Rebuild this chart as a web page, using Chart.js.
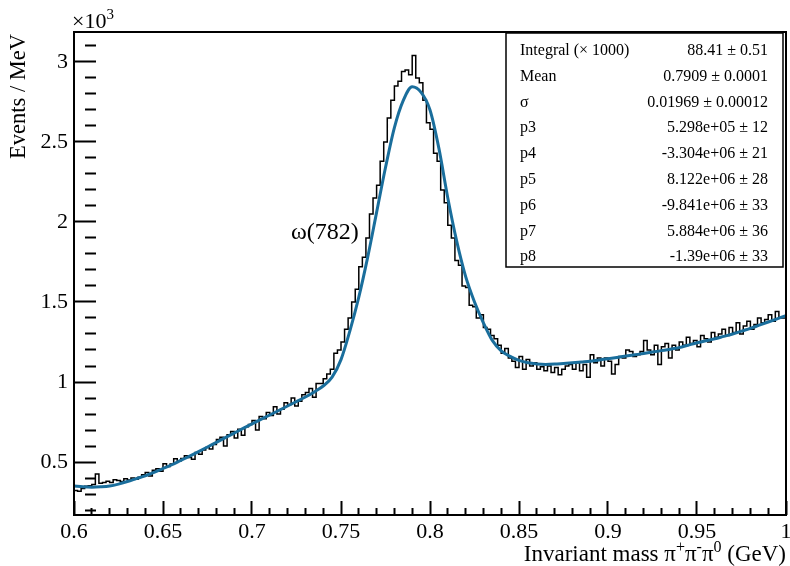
<!DOCTYPE html>
<html>
<head>
<meta charset="utf-8">
<script src="https://cdn.jsdelivr.net/npm/chart.js@4/dist/chart.umd.min.js"></script>
<style>
  body { margin: 0; background: #fff; }
  #wrap { width: 790px; height: 566px; }
</style>
</head>
<body>
<div id="wrap"><canvas id="massChart" width="790" height="566"></canvas></div>
<script>
// histogram: 200 bins of 2 MeV from 0.6 to 1.0 GeV, events / MeV
const massLow = 0.6;
const massHigh = 1.0;
const binWidth = 0.002;
const eventsPerMeV = [
  330, 322, 318, 335, 348, 352, 360, 425, 368, 372,
  380, 372, 390, 385, 378, 395, 388, 400, 392, 405,
  420, 435, 412, 448, 458, 442, 490, 472, 488, 520,
  505, 522, 540, 528, 518, 560, 548, 575, 590, 582,
  610, 640, 655, 600, 670, 690, 650, 705, 668, 720,
  735, 760, 700, 785, 770, 810, 790, 845, 800, 830,
  870, 860, 900, 850, 880, 920, 935, 960, 905, 990,
  990, 1020, 1050, 1080, 1180, 1200, 1250, 1330, 1400, 1500,
  1580, 1720, 1780, 1900, 2050, 2150, 2230, 2380, 2500, 2650,
  2760, 2850, 2880, 2940, 2950, 2920, 3040, 2900, 2870, 2760,
  2620, 2580, 2430, 2380, 2200, 2120, 1980, 1900, 1760, 1730,
  1600, 1590, 1480, 1470, 1400, 1420, 1340, 1330, 1290, 1270,
  1230, 1180, 1210, 1150, 1130, 1090, 1160, 1080, 1140, 1100,
  1120, 1080, 1095, 1070, 1100, 1060, 1090, 1045, 1080, 1100,
  1110, 1080, 1120, 1070, 1110, 1030, 1170, 1120, 1150, 1100,
  1150, 1130, 1050, 1110, 1160, 1150, 1200, 1190, 1160, 1170,
  1190, 1260, 1200, 1170, 1230, 1110, 1220, 1240, 1150, 1230,
  1200, 1250, 1230, 1280, 1240, 1260, 1220, 1290, 1270, 1250,
  1310, 1280, 1300, 1330, 1290, 1340, 1310, 1370, 1300, 1350,
  1380, 1330, 1360, 1400, 1370, 1390, 1420, 1380, 1440, 1400
];

// fitted curve sampled every 5 MeV from 0.6 to 1.0 GeV
const fitStep = 0.005;
const fitCurve = [
  350, 345, 343, 345, 350, 362, 378, 396, 414, 436,
  459, 483, 510, 537, 565, 594, 623, 652, 681, 710,
  738, 766, 794, 822, 850, 878, 906, 938, 975, 1030,
  1140, 1320, 1530, 1780, 2060, 2340, 2590, 2760, 2845, 2810,
  2700, 2460, 2150, 1880, 1660, 1500, 1370, 1260, 1195, 1160,
  1135, 1120, 1113, 1110, 1112, 1116, 1120, 1125, 1130, 1138,
  1145, 1153, 1162, 1170, 1178, 1187, 1196, 1205, 1215, 1230,
  1245, 1258, 1270, 1285, 1300, 1318, 1335, 1355, 1375, 1395,
  1415
];

// axis ticks: one tick every 0.01 GeV / 100 events, a label every fifth one
const xTickLabels = ['0.6', '0.65', '0.7', '0.75', '0.8', '0.85', '0.9', '0.95', '1'];
const yTickLabels = ['0.5', '1', '1.5', '2', '2.5', '3'];
const xMinorStep = 0.01;
const yMinorStep = 100;

const statsRows = [
  ['Integral (\u00d7 1000)', '88.41 \u00b1 0.51'],
  ['Mean', '0.7909 \u00b1 0.0001'],
  ['\u03c3', '0.01969 \u00b1 0.00012'],
  ['p3', '5.298e+05 \u00b1 12'],
  ['p4', '-3.304e+06 \u00b1 21'],
  ['p5', '8.122e+06 \u00b1 28'],
  ['p6', '-9.841e+06 \u00b1 33'],
  ['p7', '5.884e+06 \u00b1 36'],
  ['p8', '-1.39e+06 \u00b1 33']
];

const serif = '"Liberation Serif", "Times New Roman", serif';

const histPoints = eventsPerMeV.map((v, i) => ({ x: massLow + i * binWidth, y: v }));
histPoints.push({ x: massHigh, y: eventsPerMeV[eventsPerMeV.length - 1] });
const fitPoints = fitCurve.map((v, i) => ({ x: massLow + i * fitStep, y: v }));

function supText(ctx, parts, x, y, align, size, supSize) {
  // parts: [text, isSuperscript]
  const widths = parts.map(([t, sup]) => {
    ctx.font = (sup ? supSize : size) + 'px ' + serif;
    return ctx.measureText(t).width;
  });
  const total = widths.reduce((a, b) => a + b, 0);
  let cx = align === 'right' ? x - total : x;
  ctx.textAlign = 'left';
  parts.forEach(([t, sup], i) => {
    ctx.font = (sup ? supSize : size) + 'px ' + serif;
    ctx.fillText(t, cx, sup ? y - 9 : y);
    cx += widths[i];
  });
}

const rootStyle = {
  id: 'rootStyle',
  afterDraw(chart) {
    const ctx = chart.ctx;
    const a = chart.chartArea;
    ctx.save();

    // frame
    ctx.strokeStyle = '#000';
    ctx.lineWidth = 2;
    ctx.strokeRect(a.left, a.top, a.right - a.left, a.bottom - a.top);

    // stats box
    const bx = 506, by = 33, bw = 277, bh = 234;
    ctx.fillStyle = '#fff';
    ctx.fillRect(bx, by, bw, bh);
    ctx.lineWidth = 1.5;
    ctx.strokeRect(bx, by, bw, bh);
    ctx.fillStyle = '#000';
    ctx.font = '16px ' + serif;
    ctx.textBaseline = 'alphabetic';
    statsRows.forEach(([label, value], i) => {
      const ty = 55 + i * 25.8;
      ctx.textAlign = 'left';
      ctx.fillText(label, 520, ty);
      ctx.textAlign = 'right';
      ctx.fillText(value, 768, ty);
    });

    // x10^3 multiplier
    supText(ctx, [['\u00d710', false], ['3', true]], 72, 28, 'left', 22, 15);

    // peak label
    ctx.font = '24px ' + serif;
    ctx.textAlign = 'left';
    ctx.fillText('\u03c9(782)', 291, 239);

    // axis titles
    supText(ctx, [
      ['Invariant mass \u03c0', false], ['+', true],
      ['\u03c0', false], ['-', true],
      ['\u03c0', false], ['0', true],
      [' (GeV)', false]
    ], 786, 561, 'right', 23, 16);

    ctx.translate(25, 34);
    ctx.rotate(-Math.PI / 2);
    ctx.font = '22.5px ' + serif;
    ctx.textAlign = 'right';
    ctx.fillText('Events / MeV', 0, 0);

    ctx.restore();
  }
};

new Chart(document.getElementById('massChart'), {
  type: 'line',
  data: {
    datasets: [{
      label: 'fit',
      data: fitPoints,
      borderColor: '#1a6e9c',
      borderWidth: 3,
      cubicInterpolationMode: 'monotone',
      pointRadius: 0,
      fill: false,
      order: 0
    }, {
      label: 'data',
      data: histPoints,
      borderColor: '#000',
      borderWidth: 1.5,
      stepped: 'after',
      pointRadius: 0,
      fill: false,
      order: 1
    }]
  },
  options: {
    responsive: false,
    animation: false,
    layout: { padding: { top: 32, right: 4, left: 0, bottom: 0 } },
    plugins: {
      legend: { display: false },
      tooltip: { enabled: false }
    },
    scales: {
      x: {
        type: 'linear',
        min: massLow,
        max: massHigh,
        // negative tick length puts the tick marks inside the frame
        grid: {
          display: true,
          drawOnChartArea: false,
          drawTicks: true,
          tickLength: -14,
          tickWidth: 2,
          tickColor: '#000',
          tickBorderDash: ctx => (ctx.index % 5 === 0 ? [] : [7, 40])
        },
        border: { display: false },
        afterBuildTicks: scale => {
          const n = Math.round((massHigh - massLow) / xMinorStep);
          scale.ticks = Array.from({ length: n + 1 }, (_, i) => ({ value: massLow + i * xMinorStep }));
        },
        afterFit: scale => { scale.height = 51; scale.paddingLeft = 0; scale.paddingRight = 0; },
        ticks: {
          autoSkip: false,
          maxRotation: 0,
          padding: 18,
          color: '#000',
          font: { family: serif, size: 22 },
          callback: (v, i) => (i % 5 === 0 ? xTickLabels[i / 5] : '')
        }
      },
      y: {
        min: 169,
        max: 3187,
        grid: {
          display: true,
          drawOnChartArea: false,
          drawTicks: true,
          tickLength: -22,
          tickWidth: 2,
          tickColor: '#000',
          tickBorderDash: ctx => (ctx.tick && ctx.tick.value % 500 === 0 ? [] : [11, 40])
        },
        border: { display: false },
        afterBuildTicks: scale => {
          const ticks = [];
          for (let v = 2 * yMinorStep; v <= 3100; v += yMinorStep) ticks.push({ value: v });
          scale.ticks = ticks;
        },
        afterFit: scale => { scale.width = 74; scale.paddingTop = 0; scale.paddingBottom = 0; },
        ticks: {
          autoSkip: false,
          padding: 28,
          color: '#000',
          font: { family: serif, size: 22 },
          callback: v => (v % 500 === 0 ? yTickLabels[v / 500 - 1] : '')
        }
      }
    }
  },
  plugins: [rootStyle]
});
</script>
</body>
</html>
